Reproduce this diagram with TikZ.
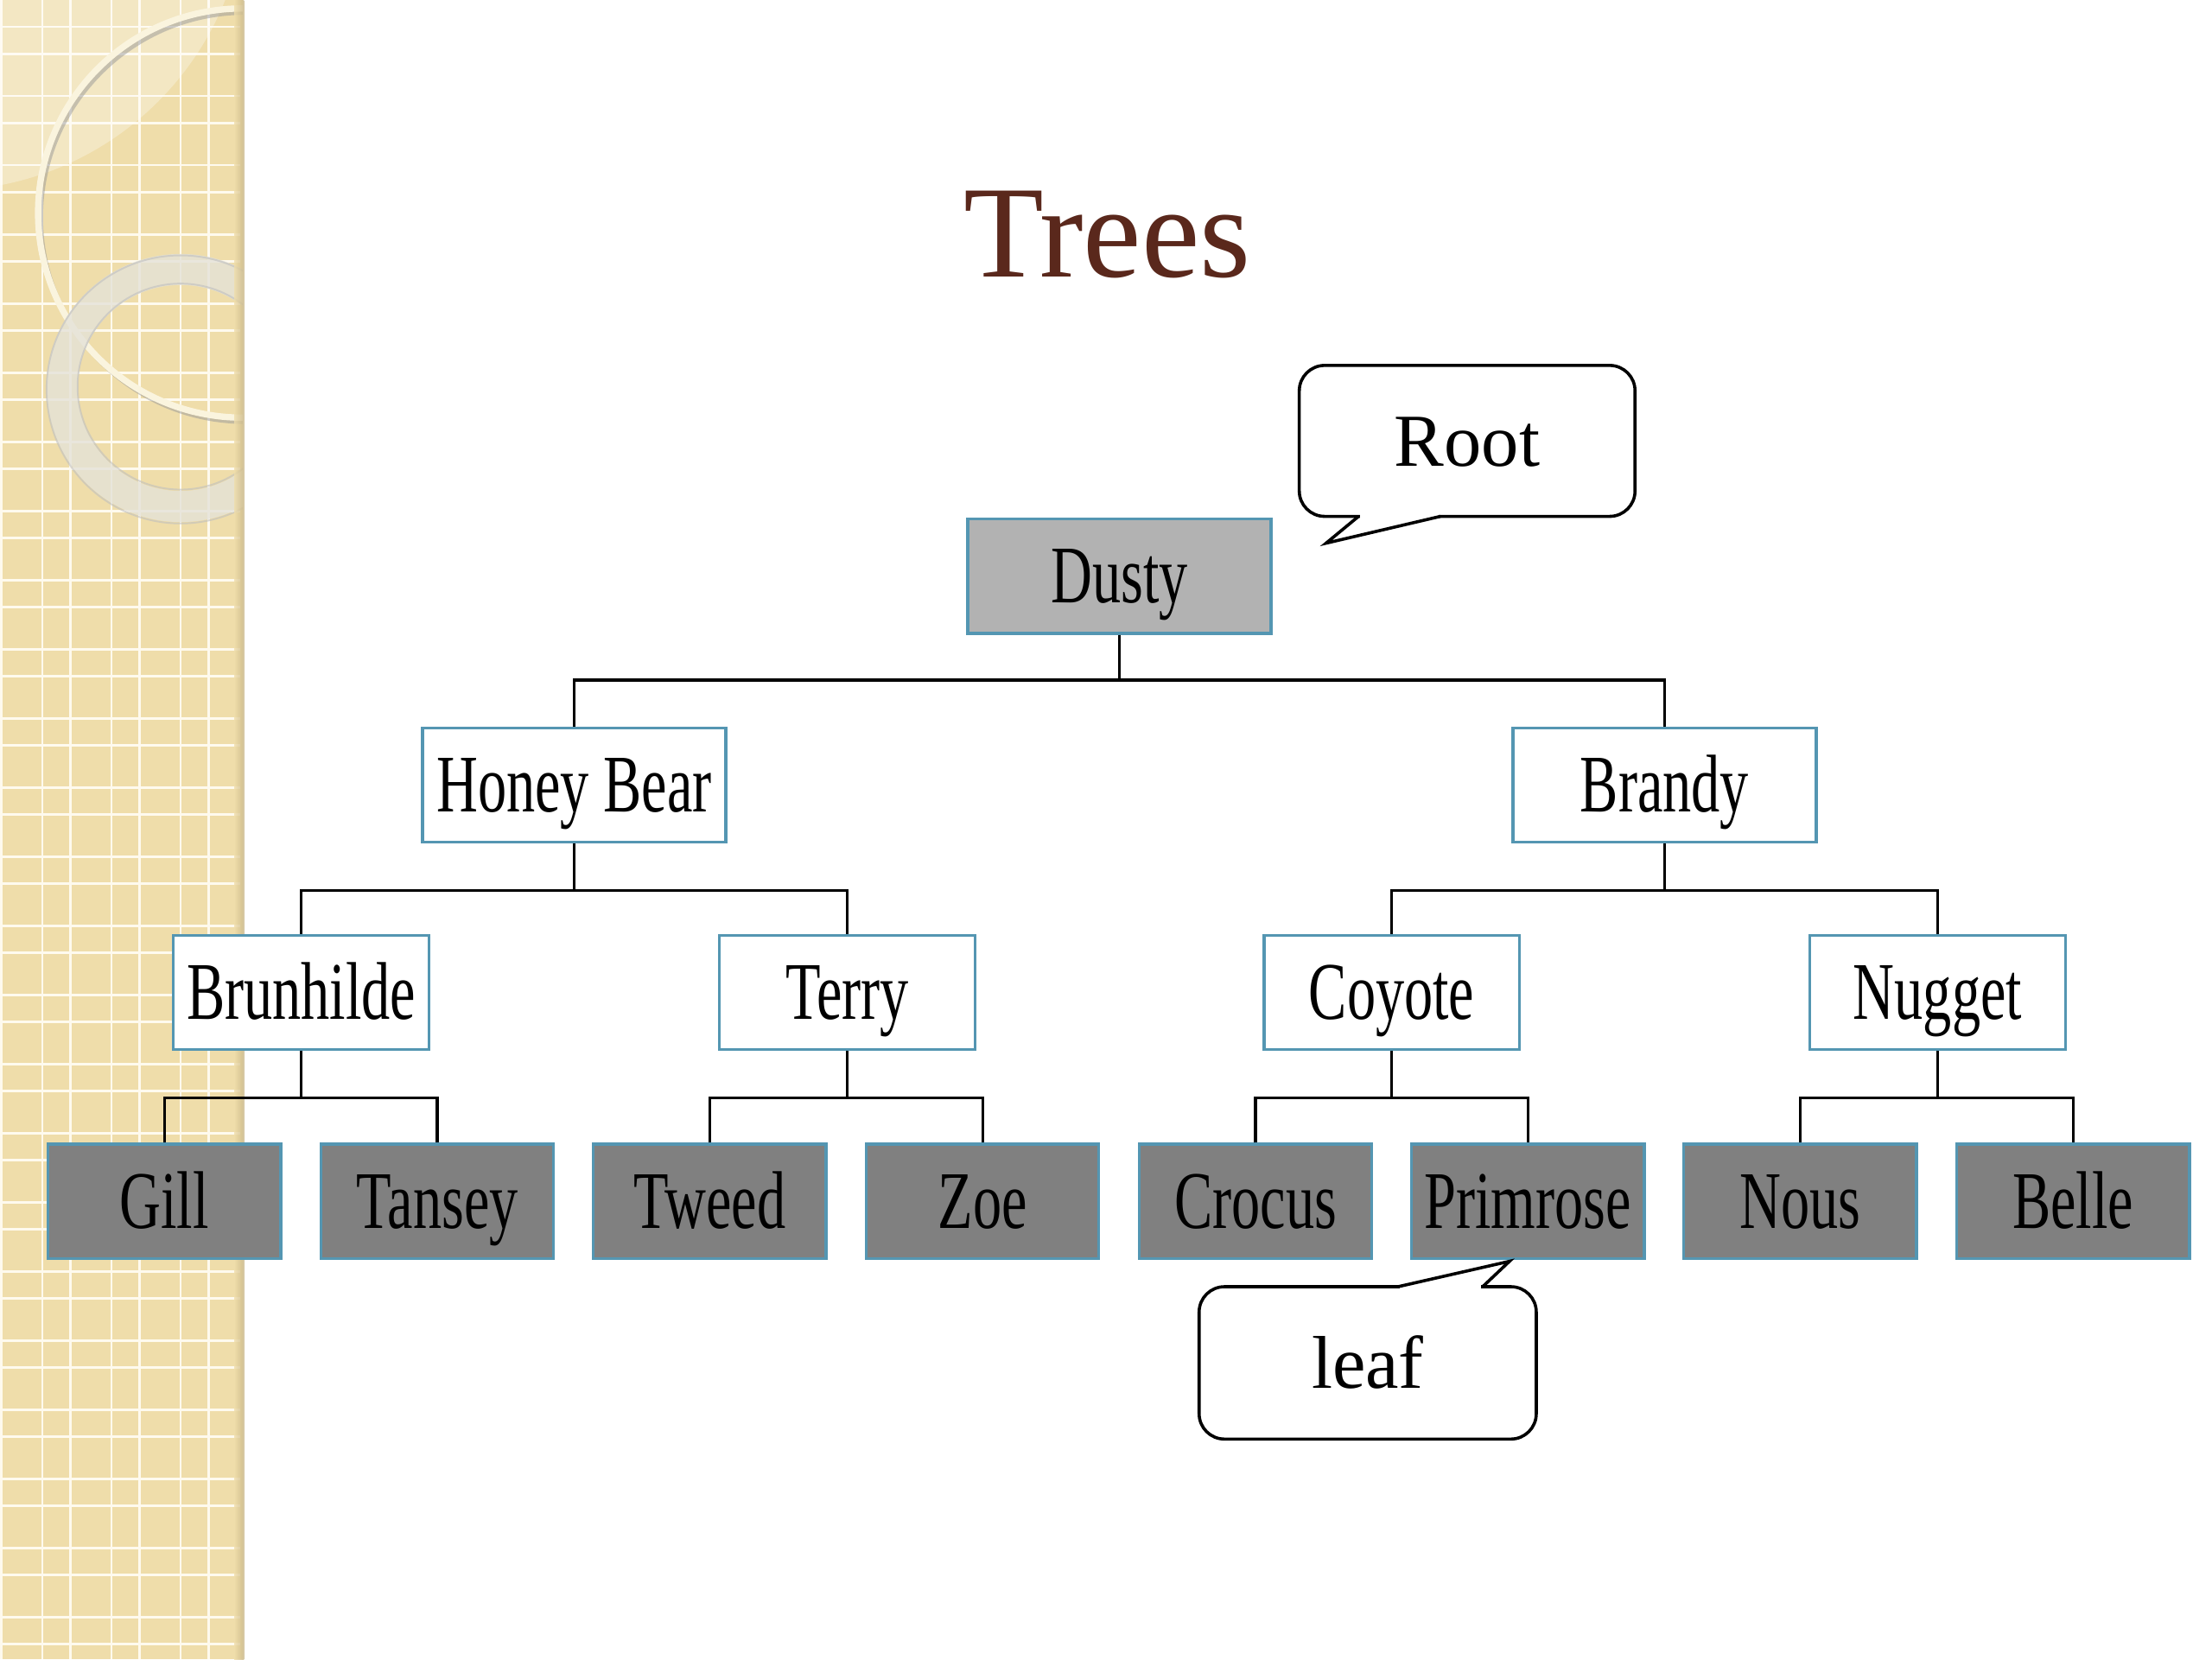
\documentclass[tikz,border=0pt]{standalone}
\usepackage{fontspec}
\setmainfont{Liberation Serif}
\newfontfamily\narrowfont[FakeStretch=0.70]{Liberation Serif}
\usetikzlibrary{calc}
\definecolor{stripe}{RGB}{239,221,170}
\definecolor{stripeshadow}{RGB}{200,182,135}
\definecolor{gridline}{RGB}{254,250,238}
\definecolor{ringcream}{RGB}{250,244,222}
\definecolor{ringgrey}{RGB}{228,226,216}
\definecolor{titlebrown}{RGB}{90,40,28}
\definecolor{nodeborder}{RGB}{84,150,178}
\definecolor{rootgrey}{RGB}{178,178,178}
\definecolor{leafgrey}{RGB}{128,128,128}
\begin{document}
\begin{tikzpicture}[x=1pt,y=-1pt,
  treebox/.style={draw=nodeborder, line width=2pt, inner sep=0pt,
    minimum width=215pt, minimum height=81pt, text height=38pt, text depth=0pt,
    font=\narrowfont\fontsize{58}{60}\selectfont, text=black},
  midbox/.style={treebox, fill=white, minimum width=181pt},
  leafbox/.style={treebox, fill=leafgrey, minimum width=165pt},
  conn/.style={draw=black, line width=2pt},
  calloutbox/.style={draw=black, line width=2.2pt, fill=white, rounded corners=18pt,
    inner sep=0pt, text height=36pt, text depth=0pt, font=\fontsize{53}{56}\selectfont},
  pointer/.style={draw=black, line width=2.2pt, line join=miter}
]
\useasboundingbox (0,0) rectangle (1568,1176);
\fill[white] (0,0) rectangle (1568,1176);

% decorative stripe
\fill[stripe] (0,0) rectangle (172,1176);
\foreach \x in {1,30,50,79,99,128,148}
  \draw[gridline, line width=1.8pt] (\x,0) -- (\x,1176);
\foreach \k in {0,...,23} {
  \draw[gridline, line width=1.8pt] (0,19+49*\k) -- (170,19+49*\k);
  \draw[gridline, line width=1.8pt] (0,38.5+49*\k) -- (170,38.5+49*\k);
}
\begin{scope}
  \clip (0,0) rectangle (172,1176);
  \fill[white, opacity=0.3] (-40,-80) circle[radius=215pt];
  \draw[black!40, opacity=0.5, line width=3pt] (174,154) circle[radius=145pt];
  \draw[ringcream, line width=4.5pt] (172,151) circle[radius=145pt];
  \draw[ringgrey, opacity=0.8, line width=22pt] (128,275) circle[radius=84pt];
  \draw[black!25, opacity=0.6, line width=1.2pt] (128,276) circle[radius=95pt];
  \draw[black!25, opacity=0.6, line width=1.2pt] (128,274) circle[radius=73pt];
\end{scope}
\shade[left color=stripe, right color=stripeshadow, opacity=0.8] (166,0) rectangle (173,1176);

% title
\node[font=\fontsize{93}{100}\selectfont, text=titlebrown, anchor=base] (title) at (785,196) {Trees};

% tree nodes
\node[treebox, fill=rootgrey] (dusty) at (793.5,408.5) {Dusty};
\node[treebox, fill=white] (honey) at (407,556.5) {Honey Bear};
\node[treebox, fill=white] (brandy) at (1180,556.5) {Brandy};
\node[midbox] (brun) at (213.5,703.5) {Brunhilde};
\node[midbox] (terry) at (600.5,703.5) {Terry};
\node[midbox] (coyote) at (986.5,703.5) {Coyote};
\node[midbox] (nugget) at (1373.5,703.5) {Nugget};
\node[leafbox] (gill) at (116.5,851.5) {Gill};
\node[leafbox] (tansey) at (310,851.5) {Tansey};
\node[leafbox] (tweed) at (503,851.5) {Tweed};
\node[leafbox] (zoe) at (696.5,851.5) {Zoe};
\node[leafbox] (crocus) at (890,851.5) {Crocus};
\node[leafbox] (primrose) at (1083,851.5) {Primrose};
\node[leafbox] (nous) at (1276,851.5) {Nous};
\node[leafbox] (belle) at (1469.5,851.5) {Belle};

% connectors
\coordinate (b0) at (793.5,482);
\coordinate (b1) at (407,631);
\coordinate (b2) at (1180,631);
\coordinate (b3) at (213.5,778);
\coordinate (b4) at (600.5,778);
\coordinate (b5) at (986.5,778);
\coordinate (b6) at (1373.5,778);
\draw[conn] (dusty) -- (b0);
\draw[conn] (honey) |- (b0) -| (brandy);
\draw[conn] (honey) -- (b1);
\draw[conn] (brun) |- (b1) -| (terry);
\draw[conn] (brandy) -- (b2);
\draw[conn] (coyote) |- (b2) -| (nugget);
\draw[conn] (brun) -- (b3);
\draw[conn] (gill) |- (b3) -| (tansey);
\draw[conn] (terry) -- (b4);
\draw[conn] (tweed) |- (b4) -| (zoe);
\draw[conn] (coyote) -- (b5);
\draw[conn] (crocus) |- (b5) -| (primrose);
\draw[conn] (nugget) -- (b6);
\draw[conn] (nous) |- (b6) -| (belle);

% callouts
\node[calloutbox, minimum width=238pt, minimum height=107pt] (root) at (1040,312.5) {Root};
\coordinate (roottip) at (940,385);
\fill[white] (964.2,363) rectangle (1019.8,368.5);
\draw[pointer] (963,366) -- (roottip) -- (1021,366);

\node[calloutbox, minimum width=239pt, minimum height=108pt] (leaf) at (969.5,966) {leaf};
\coordinate (leaftip) at (1070,894);
\fill[white] (992.2,909.5) rectangle (1049.8,914.5);
\draw[pointer] (991,912) -- (leaftip) -- (1051,912);
\end{tikzpicture}
\end{document}
